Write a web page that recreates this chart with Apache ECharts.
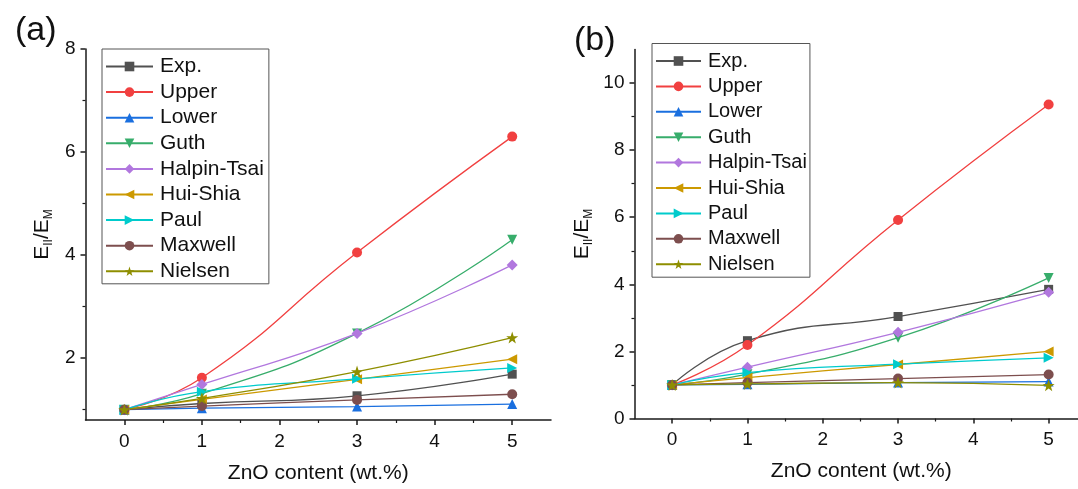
<!DOCTYPE html>
<html>
<head>
<meta charset="utf-8">
<script src="https://cdn.jsdelivr.net/npm/echarts@6/dist/echarts.min.js"></script>
<style>
html,body{margin:0;padding:0;background:#fff;}
#chart{width:1078px;height:489px;}
</style>
</head>
<body>
<div id="chart"></div>
<script>
// ---- data ----
var xValues = [0, 1, 3, 5];
var seriesNames = ['Exp.', 'Upper', 'Lower', 'Guth', 'Halpin-Tsai', 'Hui-Shia', 'Paul', 'Maxwell', 'Nielsen'];

// panel (a)
var aExp     = [1.00, 1.12, 1.27, 1.69];
var aUpper   = [1.00, 1.62, 4.05, 6.30];
var aLower   = [1.00, 1.03, 1.06, 1.11];
var aGuth    = [1.00, 1.31, 2.48, 4.30];
var aHalpin  = [1.00, 1.49, 2.48, 3.81];
var aHuiShia = [1.00, 1.20, 1.59, 1.98];
var aPaul    = [1.00, 1.35, 1.60, 1.81];
var aMaxwell = [1.00, 1.07, 1.19, 1.30];
var aNielsen = [1.00, 1.22, 1.74, 2.40];

// panel (b)
var bExp     = [1.00, 2.32, 3.04, 3.85];
var bUpper   = [1.00, 2.19, 5.92, 9.36];
var bLower   = [1.00, 1.02, 1.07, 1.10];
var bGuth    = [1.00, 1.32, 2.41, 4.19];
var bHalpin  = [1.00, 1.53, 2.57, 3.76];
var bHuiShia = [1.00, 1.22, 1.61, 2.00];
var bPaul    = [1.00, 1.37, 1.62, 1.81];
var bMaxwell = [1.00, 1.07, 1.19, 1.31];
var bNielsen = [1.00, 1.03, 1.07, 0.99];

// tick labels
var xTicks = [0, 1, 2, 3, 4, 5];
var xMinorTicks = [0.5, 1.5, 2.5, 3.5, 4.5];
var aYTicks = [2, 4, 6, 8];
var aYMinorTicks = [1, 3, 5, 7];
var bYTicks = [0, 2, 4, 6, 8, 10];
var bYMinorTicks = [1, 3, 5, 7, 9];

// ---- styles ----
var FONT = 'Liberation Sans, Arial, sans-serif';
var colors = ['#515151', '#F14040', '#1A6FDF', '#37AD6B', '#B177DE', '#CC9900', '#00CBCC', '#7D4E4E', '#8E8E00'];
var starPath = 'path://M50,0 L61.8,35.1 L98.1,35.1 L68.8,56.7 L79.4,90.9 L50,69.5 L20.6,90.9 L31.2,56.7 L1.9,35.1 L38.2,35.1 Z';
var symbols = ['rect', 'circle', 'triangle', 'triangle', 'diamond', 'triangle', 'triangle', 'circle', starPath];
var rotates = [0, 0, 0, 180, 0, 90, -90, 0, 0];
var sizes = [9, 10, 10, 10, 11, 10, 10, 10, 12];

var aData = [aExp, aUpper, aLower, aGuth, aHalpin, aHuiShia, aPaul, aMaxwell, aNielsen];
var bData = [bExp, bUpper, bLower, bGuth, bHalpin, bHuiShia, bPaul, bMaxwell, bNielsen];

function pairs(vals) {
  return xValues.map(function (x, i) { return [x, vals[i]]; });
}

var series = [];
[aData, bData].forEach(function (panel, p) {
  panel.forEach(function (vals, i) {
    series.push({
      name: seriesNames[i],
      type: 'line',
      xAxisIndex: p * 2,
      yAxisIndex: p * 2,
      data: pairs(vals),
      smooth: true,
      symbol: symbols[i],
      symbolRotate: rotates[i],
      symbolSize: sizes[i],
      showAllSymbol: true,
      lineStyle: { color: colors[i], width: 1.3 },
      itemStyle: { color: colors[i] },
      emphasis: { disabled: true },
      animation: false
    });
  });
});

var axisLineStyle = { show: true, onZero: false, lineStyle: { color: '#1a1a1a', width: 1.5 } };
var labelStyle = { color: '#111', fontSize: 19, fontFamily: FONT };

function xAxes(grid, gap, xmax, shift) {
  return [{
    type: 'value', gridIndex: grid, position: 'bottom', min: -0.5, max: xmax,
    axisLine: axisLineStyle,
    axisTick: { show: true, length: 5, customValues: xTicks, lineStyle: { color: '#1a1a1a', width: 1.5 } },
    axisLabel: Object.assign({ customValues: xTicks, margin: 12 }, labelStyle),
    splitLine: { show: false },
    name: 'ZnO content (wt.%)', nameLocation: 'middle', nameGap: gap,
    nameTextStyle: { color: '#111', fontSize: 21, fontFamily: FONT, padding: [0, 0, 0, shift] }
  }, {
    type: 'value', gridIndex: grid, position: 'bottom', min: -0.5, max: xmax,
    axisLine: { show: false, onZero: false },
    axisTick: { show: true, length: 3, customValues: xMinorTicks, lineStyle: { color: '#1a1a1a', width: 1.2 } },
    axisLabel: { show: false },
    splitLine: { show: false }
  }];
}

function yAxes(grid, min, max, ticks, minor, gap) {
  return [{
    type: 'value', gridIndex: grid, position: 'left', min: min, max: max,
    axisLine: axisLineStyle,
    axisTick: { show: true, length: 5, customValues: ticks, lineStyle: { color: '#1a1a1a', width: 1.5 } },
    axisLabel: Object.assign({ customValues: ticks, margin: 10 }, labelStyle),
    splitLine: { show: false },
    name: 'E{s|II}/E{s|M}', nameLocation: 'middle', nameGap: gap, nameRotate: 90,
    nameTextStyle: {
      color: '#111', fontSize: 21, fontFamily: FONT,
      rich: { s: { fontSize: 12, fontFamily: FONT, color: '#111', padding: [12, 0, 0, 0] } }
    }
  }, {
    type: 'value', gridIndex: grid, position: 'left', min: min, max: max,
    axisLine: { show: false, onZero: false },
    axisTick: { show: true, length: 3, customValues: minor, lineStyle: { color: '#1a1a1a', width: 1.2 } },
    axisLabel: { show: false },
    splitLine: { show: false }
  }];
}

var option = {
  animation: false,
  backgroundColor: '#fff',
  title: [
    { text: '(a)', left: 10, top: 9, textStyle: { fontSize: 34, fontWeight: 'normal', color: '#111', fontFamily: FONT } },
    { text: '(b)', left: 569, top: 19, textStyle: { fontSize: 34, fontWeight: 'normal', color: '#111', fontFamily: FONT } }
  ],
  grid: [
    { left: 85.5, top: 49, right: 527, bottom: 67.5 },
    // panel (b): axis runs -0.5..5.5 in the original and is cut by the image edge
    { left: 634.5, top: 49.5, right: 0, bottom: 70.5 }
  ],
  xAxis: xAxes(0, 43, 5.5, 0).concat(xAxes(1, 42, 5.39, 10)),
  yAxis: yAxes(0, 0.8, 8, aYTicks, aYMinorTicks, 31).concat(yAxes(1, 0, 11, bYTicks, bYMinorTicks, 40)),
  legend: [{
    data: seriesNames, orient: 'vertical', left: 102, top: 49,
    padding: [7, 5, 2, 3], itemWidth: 47, itemHeight: 12, itemGap: 4.6,
    borderColor: '#555', borderWidth: 1, selectedMode: false,
    textStyle: { fontSize: 21, color: '#111', fontFamily: FONT, padding: [0, 0, 0, 2] }
  }, {
    data: seriesNames, orient: 'vertical', left: 652, top: 43.5,
    padding: [7.5, 3, 3, 3], itemWidth: 45, itemHeight: 12, itemGap: 5.4,
    borderColor: '#555', borderWidth: 1, selectedMode: false,
    textStyle: { fontSize: 20, color: '#111', fontFamily: FONT, padding: [0, 0, 0, 2] }
  }],
  series: series
};

var chart = echarts.init(document.getElementById('chart'), null, { renderer: 'canvas' });
chart.setOption(option);
</script>
</body>
</html>
